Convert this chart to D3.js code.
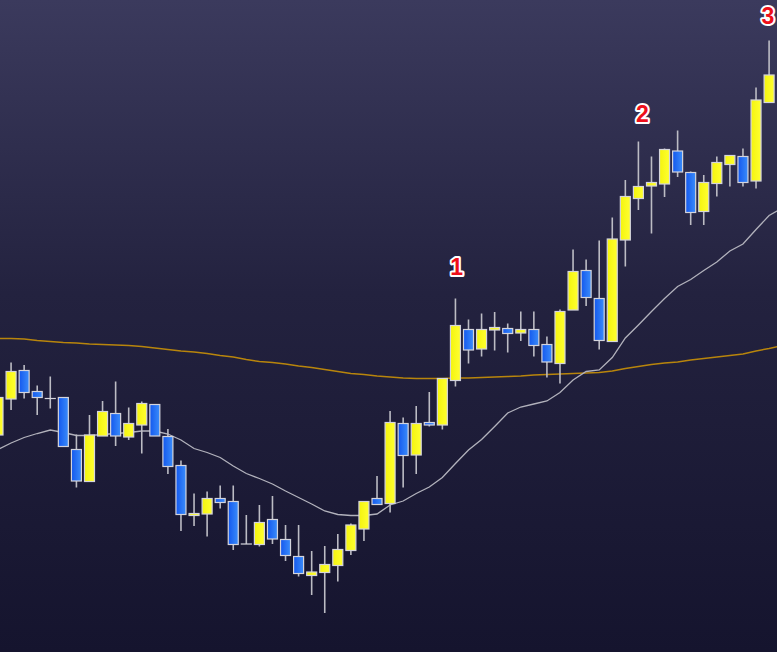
<!DOCTYPE html>
<html><head><meta charset="utf-8">
<script src="https://cdn.jsdelivr.net/npm/d3@7"></script>
<style>html,body{margin:0;padding:0;background:#1b1a36;overflow:hidden}svg{display:block}</style>
</head><body>
<script>
const opens  = [93.4,100.6,106.3,102.1,100.7,100.9,90.5,84.1,93.2,97.7,93.0,95.4,99.5,93.1,87.3,77.3,77.6,80.7,80.1,71.6,71.5,76.5,72.5,69.1,65.3,65.9,67.3,70.3,74.6,80.7,79.7,95.7,89.4,95.9,95.4,104.3,114.5,110.6,114.4,114.7,113.8,114.5,111.5,107.7,118.4,126.3,120.7,112.1,132.4,140.7,143.2,143.6,150.2,145.9,138.1,143.7,147.5,149.1,144.2,159.9];
const highs  = [101.4,107.9,107.4,103.3,105.1,100.9,93.5,97.4,100.2,104.1,98.9,100.1,99.5,94.6,88.3,81.7,82.1,83.3,83.3,77.4,79.4,81.2,75.4,75.4,70.2,71.2,73.6,75.7,80.1,85.2,98.2,96.9,99.2,102.0,104.7,120.7,116.5,117.7,118.0,115.7,118.1,118.1,113.1,118.5,130.5,128.5,132.3,136.9,144.4,152.1,149.1,150.7,154.3,146.1,145.4,149.1,149.3,150.7,162.9,172.3];
const lows   = [92.4,98.4,100.7,97.4,98.7,91.1,82.9,84.1,93.2,91.2,92.4,89.7,93.2,85.6,74.2,75.2,73.1,78.7,70.4,71.6,71.1,71.6,68.2,65.1,61.4,57.8,64.1,69.4,72.2,79.5,77.9,82.9,85.6,95.1,94.5,103.1,107.7,109.1,110.3,109.9,112.2,109.1,104.9,103.7,118.4,119.2,110.5,112.1,127.1,138.4,133.7,141.0,145.0,135.4,135.4,141.1,143.1,143.1,142.7,159.9];
const closes = [100.9,106.1,101.9,100.9,100.7,91.1,84.2,93.4,98.1,93.2,95.7,99.7,93.2,87.1,77.5,77.7,80.7,79.9,71.5,71.6,75.9,72.6,69.3,65.7,66.0,67.5,70.5,75.4,80.1,79.5,95.9,89.3,95.7,95.4,104.7,115.3,110.4,114.5,114.9,113.7,114.5,111.3,108.0,118.1,126.1,120.9,112.3,132.6,141.1,143.1,143.9,150.5,146.0,137.9,143.9,147.9,149.3,143.9,160.4,165.4];
const maShort = [90.5,91.8,92.9,93.7,94.4,93.9,93.3,93.3,93.5,93.7,93.9,94.2,94.2,93.6,92.4,90.7,89.9,88.9,87.2,85.7,84.7,83.6,82.2,80.9,79.6,78.2,77.5,77.3,77.3,77.6,79.4,80.2,81.7,83.0,84.9,87.7,90.4,92.5,95.1,97.8,99.0,99.6,100.2,101.9,104.4,106.1,106.4,108.9,112.8,115.4,118.1,120.7,123.1,124.5,126.3,128.0,130.2,131.6,134.5,137.3,138.8];
const maLong = [112.7,112.7,112.6,112.3,112.1,111.9,111.8,111.6,111.5,111.4,111.3,111.1,110.8,110.5,110.2,110.0,109.7,109.3,109.0,108.5,108.1,107.9,107.6,107.2,106.9,106.5,106.1,105.7,105.5,105.2,105.0,104.8,104.7,104.7,104.7,104.8,104.8,104.9,105.0,105.1,105.2,105.4,105.5,105.6,105.7,105.8,105.9,106.2,106.7,107.1,107.5,107.8,108.0,108.4,108.7,109.0,109.3,109.6,110.2,110.7,111.3];
const markPos = [35.1, 49.3, 58.9];
const markLevel = [127.0, 157.6, 177.2];
const markText = ["1", "2", "3"];

const W = 777, H = 652;
const svg = d3.select("body").append("svg").attr("width", W).attr("height", H);
const defs = svg.append("defs");
const bg = defs.append("linearGradient").attr("id","bg").attr("x1",0).attr("y1",0).attr("x2",0).attr("y2",1);
bg.append("stop").attr("offset","0%").attr("stop-color","#3b3a5d");
bg.append("stop").attr("offset","45%").attr("stop-color","#23223f");
bg.append("stop").attr("offset","100%").attr("stop-color","#15142e");
const bl = defs.append("linearGradient").attr("id","blue").attr("x1",0).attr("y1",0).attr("x2",1).attr("y2",0);
bl.append("stop").attr("offset","0%").attr("stop-color","#1458ee");
bl.append("stop").attr("offset","100%").attr("stop-color","#3a8cfa");
const yl = defs.append("linearGradient").attr("id","yel").attr("x1",0).attr("y1",0).attr("x2",1).attr("y2",0);
yl.append("stop").attr("offset","0%").attr("stop-color","#f4f40e");
yl.append("stop").attr("offset","100%").attr("stop-color","#ffff30");
defs.append("clipPath").attr("id","clip").append("rect").attr("width",W).attr("height",H);

svg.append("rect").attr("width",W).attr("height",H).attr("fill","url(#bg)");

const x = d3.scaleLinear().domain([0, 59]).range([-2, 769.1]);
const y = d3.scaleLinear().domain([50, 180.4]).range([H, 0]);
const g = svg.append("g").attr("clip-path","url(#clip)");

const line = d3.line().x((d,i)=>x(i)).y(d=>y(d));
g.append("path").datum(maLong).attr("d", line).attr("fill","none").attr("stroke","#b8850c").attr("stroke-width",1.5);
g.append("path").datum(maShort).attr("d", line).attr("fill","none").attr("stroke","#b2b2bc").attr("stroke-width",1.3);

const data = opens.map((o,i)=>({i, o, h:highs[i], l:lows[i], c:closes[i]}));
const bw = 10;
const cg = g.selectAll("g.c").data(data).join("g");
cg.append("line").attr("x1",d=>x(d.i)).attr("x2",d=>x(d.i))
  .attr("y1",d=>y(d.h)).attr("y2",d=>y(d.l)).attr("stroke","#bcbcc4").attr("stroke-width",1.6);
cg.append("rect")
  .attr("x",d=>x(d.i)-bw/2).attr("width",bw)
  .attr("y",d=>y(Math.max(d.o,d.c)))
  .attr("height",d=>Math.max(0.01, Math.abs(y(d.o)-y(d.c))))
  .attr("fill",d=>d.c>=d.o?"url(#yel)":"url(#blue)")
  .attr("stroke","#d4d4dc").attr("stroke-width",1.2);

svg.selectAll("text.m").data(markPos).join("text")
  .attr("x",d=>x(d)).attr("y",(d,k)=>y(markLevel[k]))
  .attr("text-anchor","middle").attr("dominant-baseline","central")
  .attr("font-family","Liberation Sans, Arial, sans-serif").attr("font-weight","bold").attr("font-size",23)
  .attr("fill","#ee0f1a").attr("stroke","#ffffff").attr("stroke-width",4).attr("paint-order","stroke")
  .attr("stroke-linejoin","round")
  .text((d,k)=>markText[k]);
</script>
</body></html>
